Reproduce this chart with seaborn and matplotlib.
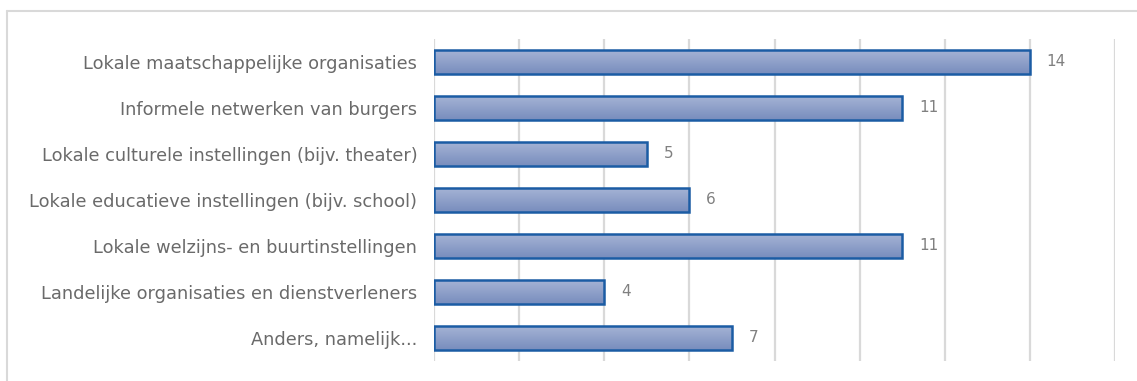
import numpy as np
import pandas as pd
import matplotlib
matplotlib.use("Agg")
import matplotlib.pyplot as plt
import seaborn as sns
from matplotlib.colors import LinearSegmentedColormap
from matplotlib.lines import Line2D

categories = [
    "Lokale maatschappelijke organisaties",
    "Informele netwerken van burgers",
    "Lokale culturele instellingen (bijv. theater)",
    "Lokale educatieve instellingen (bijv. school)",
    "Lokale welzijns- en buurtinstellingen",
    "Landelijke organisaties en dienstverleners",
    "Anders, namelijk...",
]
values = [14, 11, 5, 6, 11, 4, 7]

df = pd.DataFrame({"cat": categories, "val": values})

sns.set_theme(style="white")
plt.rcParams["font.family"] = ["DejaVu Sans"]

fig = plt.figure(figsize=(11.37, 3.81), dpi=100)
ax = fig.add_axes([434 / 1137, 1 - 361 / 381, (1115 - 434) / 1137, (361 - 39) / 381])

sns.barplot(data=df, x="val", y="cat", orient="h", ax=ax, width=0.52,
            color="#8b9dc8", edgecolor="#1b5ca4", linewidth=1.8, zorder=3)

# gradient fill
cmap = LinearSegmentedColormap.from_list("g", ["#a5b3d5", "#788dbd"])
grad = np.linspace(0, 1, 64).reshape(-1, 1)
for p in ax.patches:
    x0, y0 = p.get_x(), p.get_y()
    w, h = p.get_width(), p.get_height()
    im = ax.imshow(grad, cmap=cmap, aspect="auto",
                   extent=[x0, x0 + w, y0 + h, y0], zorder=2.5,
                   interpolation="bilinear")
    im.set_clip_path(p)
    p.set_facecolor("none")

ax.set_xlim(0, 16)
ax.set_ylim(len(categories) - 0.5, -0.5)
ax.set_xticks(np.arange(0, 17, 2))
ax.xaxis.grid(True, color="#d9d9d9", linewidth=1.6, zorder=0)
ax.yaxis.grid(False)
ax.set_axisbelow(True)
for s in ax.spines.values():
    s.set_visible(False)
ax.tick_params(axis="x", bottom=False, labelbottom=False)
ax.tick_params(axis="y", left=False, length=0, pad=12, labelsize=12.8, labelcolor="#6a6a6a")
ax.set_xlabel("")
ax.set_ylabel("")

for i, v in enumerate(values):
    ax.annotate(str(v), xy=(v, i), xytext=(12, 0), textcoords="offset points",
                va="center", ha="left", fontsize=11, color="#808080")

# outer chart frame (left and top visible)
fig.add_artist(Line2D([6.5 / 1137, 6.5 / 1137], [0, 1 - 10.5 / 381],
                      transform=fig.transFigure, color="#d9d9d9", linewidth=1.5))
fig.add_artist(Line2D([6.5 / 1137, 1], [1 - 10.5 / 381, 1 - 10.5 / 381],
                      transform=fig.transFigure, color="#d9d9d9", linewidth=1.5))

fig.savefig("out.png", dpi=100)
